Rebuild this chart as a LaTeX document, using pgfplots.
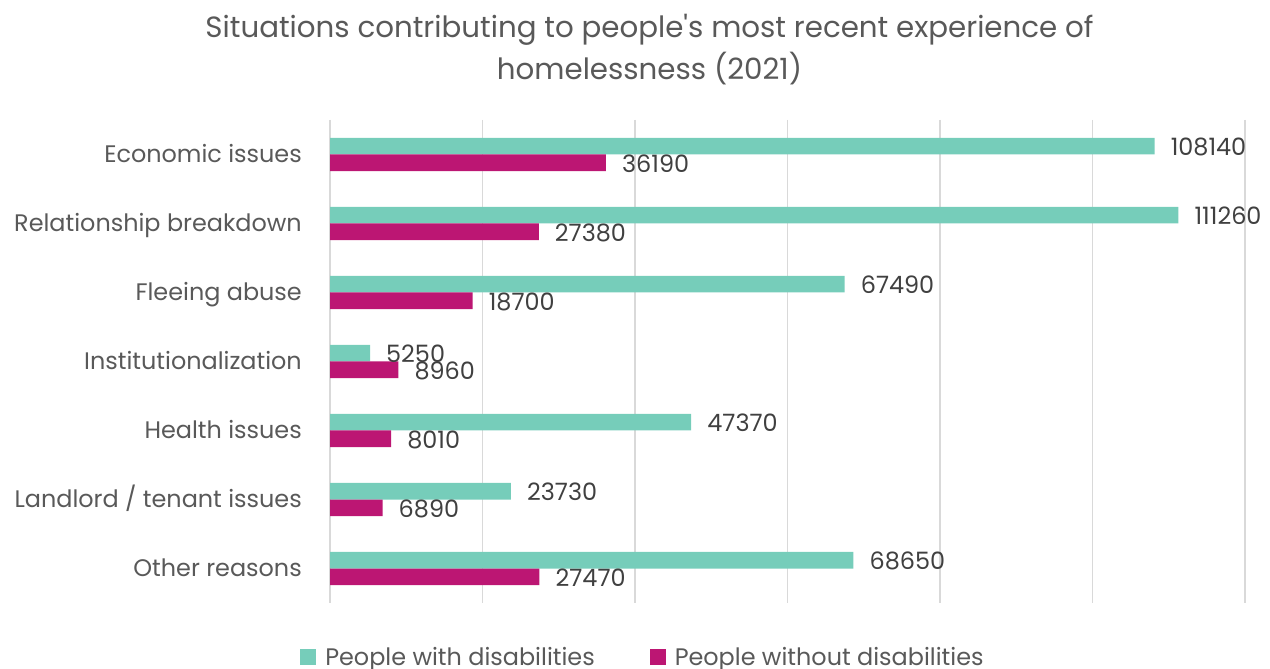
\documentclass[border=0pt]{standalone}
\usepackage{fontspec}
\setmainfont{Poppins}
\usepackage{pgfplots}
\usepackage{pgfplotstable}
\pgfplotsset{compat=1.18}
\definecolor{tealA}{HTML}{76CDBA}
\definecolor{magA}{HTML}{BC1673}
\definecolor{gridA}{HTML}{D9D9D9}
\definecolor{txtA}{HTML}{595959}
\definecolor{lblA}{HTML}{404040}
\pgfplotstableread{
y with without
0 108140 36190
1 111260 27380
2 67490 18700
3 5250 8960
4 47370 8010
5 23730 6890
6 68650 27470
}\datatable
\begin{document}
\begin{tikzpicture}[x=1bp,y=1bp]
\path[use as bounding box] (0,0) rectangle (1270,669);
\node[text=txtA, font=\fontsize{29.4}{43}\selectfont, align=center] at (649.5,619.5)
  {Situations contributing to people\textquotesingle s most recent experience of\\homelessness (2021)};
\begin{axis}[
  at={(330bp,66bp)}, anchor=south west,
  scale only axis, width=915bp, height=483bp,
  xmin=0, xmax=120000, ymin=-0.5, ymax=6.5,
  y dir=reverse,
  scaled x ticks=false,
  xtick={0,20000,...,120000}, xticklabels={},
  xmajorgrids, grid style={gridA, line width=1.3bp},
  axis line style={draw=none},
  major tick length=0pt,
  ytick={0,...,6},
  yticklabels={Economic issues,Relationship breakdown,Fleeing abuse,Institutionalization,Health issues,Landlord / tenant issues,Other reasons},
  yticklabel style={text=txtA, font=\fontsize{24}{28}\selectfont, inner sep=0pt, anchor=base east, xshift=-28bp, yshift=-7.8bp},
  xbar, bar width=16.7bp,
  nodes near coords={\pgfmathprintnumber[fixed,precision=0,1000 sep={},assume math mode=true]{\pgfplotspointmeta}},
  point meta=x,
  every node near coord/.append style={text=lblA, font=\fontsize{24}{28}\selectfont, anchor=west, inner sep=0pt, xshift=16bp, yshift=-1bp},
  legend columns=2,
  legend style={at={(rel axis cs:0.342,-0.1118)}, anchor=center, draw=none, fill=none, inner sep=0pt,
    font=\fontsize{24}{28}\selectfont, text=txtA,
    /tikz/every even column/.append style={column sep=53bp},
    /tikz/every odd column/.append style={column sep=7bp}},
  legend image code/.code={\fill[#1] (0bp,-8bp) rectangle (16bp,8bp);},
]
\addplot[fill=tealA, draw=none, bar shift=8.35bp] table[x=with, y=y] {\datatable};
\addplot[fill=magA, draw=none, bar shift=-8.35bp] table[x=without, y=y] {\datatable};
\legend{People with disabilities, People without disabilities}
\end{axis}
\end{tikzpicture}
\end{document}
